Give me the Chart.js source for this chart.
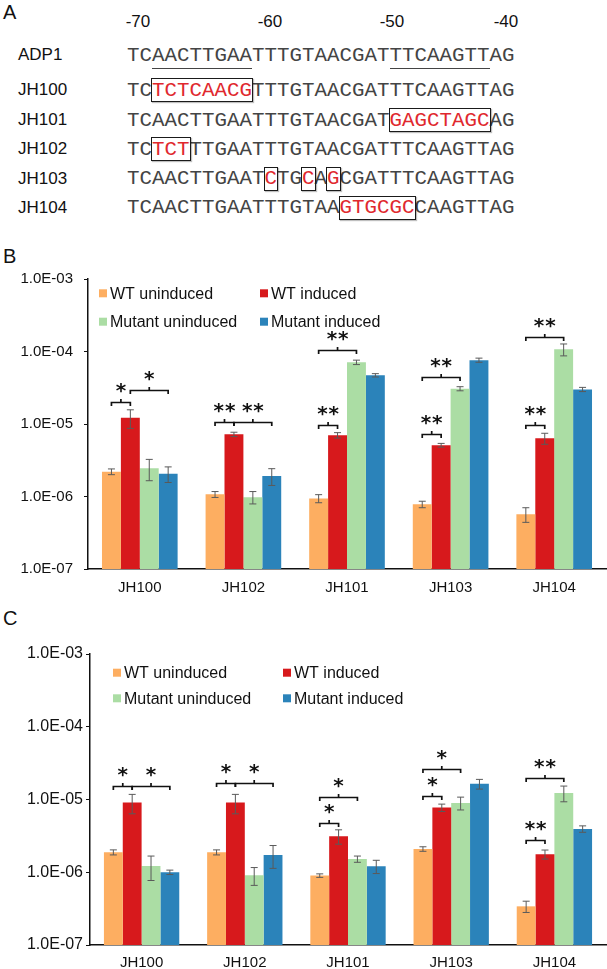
<!DOCTYPE html>
<html>
<head>
<meta charset="utf-8">
<script src="https://cdn.jsdelivr.net/npm/chart.js@4.4.0/dist/chart.umd.min.js"></script>
<style>
body { margin: 0; background: #fff; }
#page { position: relative; width: 607px; height: 969px; overflow: hidden; font-family: "Liberation Sans", Arial, sans-serif; color: #111; }
.letter { position: absolute; left: 3px; font-size: 20px; line-height: 24px; }
.rowname { position: absolute; left: 18px; font-size: 17px; line-height: 20px; }
.pos { position: absolute; font-size: 17px; line-height: 20px; transform: translateX(-50%); }
.seq { position: absolute; left: 127px; font-family: "Liberation Mono", monospace; font-size: 20.8px; line-height: 24px; color: #444; white-space: pre; }
.seq span { display: inline-block; width: 12.5px; text-align: center; }
.seq span.mut { color: #e0282e; }
.box { position: absolute; box-sizing: border-box; border: 1.5px solid #1a1a1a; box-shadow: 1px 1px 1px rgba(0,0,0,0.25); }
.uline { position: absolute; height: 1px; background: #444; }
canvas { position: absolute; left: 0; }
</style>
</head>
<body>
<div id="page">
  <div class="letter" style="top:0px">A</div>
  <div class="letter" style="top:244px">B</div>
  <div class="letter" style="top:606px">C</div>
  <div id="align"></div>
  <canvas id="chartB" width="607" height="360" style="top:250px"></canvas>
  <canvas id="chartC" width="607" height="359" style="top:610px"></canvas>
</div>
<script>
// Panel A: promoter sequences
const seqNames = ['ADP1', 'JH100', 'JH101', 'JH102', 'JH103', 'JH104'];
const seqs = [
    'TCAACTTGAATTTGTAACGATTTCAAGTTAG',
    'TCTCTCAACGTTTGTAACGATTTCAAGTTAG',
    'TCAACTTGAATTTGTAACGATGAGCTAGCAG',
    'TCTCTTTGAATTTGTAACGATTTCAAGTTAG',
    'TCAACTTGAATCTGCAGCGATTTCAAGTTAG',
    'TCAACTTGAATTTGTAAGTGCGCCAAGTTAG'
];
// [start, length] of mutated stretches
const seqBoxes = [[], [[2, 8]], [[21, 8]], [[2, 3]], [[11, 1], [14, 1], [16, 1]], [[17, 6]]];
const adp1Underlines = [[2, 8], [21, 8]];
const posLabels = ['-70', '-60', '-50', '-40'];

// Panels B and C
const categories = ['JH100', 'JH102', 'JH101', 'JH103', 'JH104'];
const seriesNames = ['WT uninduced', 'WT induced', 'Mutant uninduced', 'Mutant induced'];
const seriesColors = ['#fdae61', '#d7191c', '#abdda4', '#2b83ba'];
const yTicks = [1e-7, 1e-6, 1e-5, 1e-4, 1e-3];

const bWtUninduced = [2.2e-6, 1.07e-6, 0.94e-6, 0.78e-6, 0.57e-6];
const bWtInduced = [1.22e-5, 7.2e-6, 7.0e-6, 5.1e-6, 6.35e-6];
const bMutUninduced = [2.45e-6, 0.98e-6, 7.1e-5, 3.07e-5, 1.07e-4];
const bMutInduced = [2.06e-6, 1.92e-6, 4.7e-5, 7.6e-5, 3.0e-5];
const bWtUninducedErr = [0.2e-6, 0.1e-6, 0.12e-6, 0.08e-6, 0.13e-6];
const bWtInducedErr = [3.5e-6, 0.5e-6, 0.6e-6, 0.3e-6, 1.1e-6];
const bMutUninducedErr = [0.8e-6, 0.19e-6, 0.5e-5, 0.2e-5, 0.2e-4];
const bMutInducedErr = [0.5e-6, 0.5e-6, 0.25e-5, 0.5e-5, 0.2e-5];
// [category, from series, to series, level, label]
const bBrackets = [
    [0, 0, 1, 2.03e-5, '*'], [0, 1, 3, 2.94e-5, '*'],
    [1, 0, 1, 1.07e-5, '**'], [1, 1, 3, 1.07e-5, '**'],
    [2, 0, 1, 9.7e-6, '**'], [2, 0, 2, 1.05e-4, '**'],
    [3, 0, 1, 7.3e-6, '**'], [3, 0, 2, 4.4e-5, '**'],
    [4, 0, 1, 9.7e-6, '**'], [4, 0, 2, 1.57e-4, '**']
];

const cWtUninduced = [1.88e-6, 1.88e-6, 0.9e-6, 2.09e-6, 0.34e-6];
const cWtInduced = [9.06e-6, 9.06e-6, 3.13e-6, 7.74e-6, 1.77e-6];
const cMutUninduced = [1.22e-6, 0.91e-6, 1.52e-6, 8.98e-6, 1.23e-5];
const cMutInduced = [1.0e-6, 1.73e-6, 1.21e-6, 1.64e-5, 3.94e-6];
const cWtUninducedErr = [0.15e-6, 0.15e-6, 0.05e-6, 0.15e-6, 0.06e-6];
const cWtInducedErr = [2.7e-6, 2.7e-6, 0.7e-6, 0.9e-6, 0.25e-6];
const cMutUninducedErr = [0.45e-6, 0.25e-6, 0.15e-6, 1.8e-6, 3.0e-6];
const cMutInducedErr = [0.07e-6, 0.6e-6, 0.25e-6, 2.5e-6, 0.4e-6];
const cBrackets = [
    [0, 0, 1, 1.55e-5, '*'], [0, 1, 3, 1.55e-5, '*'],
    [1, 0, 1, 1.7e-5, '*'], [1, 1, 3, 1.7e-5, '*'],
    [2, 0, 1, 4.72e-6, '*'], [2, 0, 2, 1.08e-5, '*'],
    [3, 0, 1, 1.1e-5, '*'], [3, 0, 2, 2.61e-5, '*'],
    [4, 0, 1, 2.78e-6, '**'], [4, 0, 2, 1.96e-5, '**']
];

// ---- Panel A (html text) ----
const CW = 12.5, SEQ_X = 127;
const rowY = [55, 90, 120, 149, 178.5, 207.5];
const posX = [138, 270, 392, 506];
const align = document.getElementById('align');

posLabels.forEach((t, i) => {
    const d = document.createElement('div');
    d.className = 'pos';
    d.style.left = posX[i] + 'px';
    d.style.top = (22 - 9.8) + 'px';
    d.textContent = t;
    align.appendChild(d);
});

seqNames.forEach((name, r) => {
    const n = document.createElement('div');
    n.className = 'rowname';
    n.style.top = (rowY[r] - 9.8) + 'px';
    n.textContent = name;
    align.appendChild(n);

    const s = document.createElement('div');
    s.className = 'seq';
    s.style.top = (rowY[r] - 11.3) + 'px';
    const boxes = seqBoxes[r];
    s.innerHTML = seqs[r].split('').map((ch, i) => {
        const mut = boxes.some(b => i >= b[0] && i < b[0] + b[1]);
        return `<span class="${mut ? 'mut' : ''}">${ch}</span>`;
    }).join('');
    align.appendChild(s);

    boxes.forEach(b => {
        const el = document.createElement('div');
        el.className = 'box';
        el.style.left = (SEQ_X + b[0] * CW - 1) + 'px';
        el.style.width = (b[1] * CW + 2) + 'px';
        el.style.top = (rowY[r] - 12) + 'px';
        el.style.height = '24px';
        align.appendChild(el);
    });
});

adp1Underlines.forEach(u => {
    const el = document.createElement('div');
    el.className = 'uline';
    el.style.left = (SEQ_X + u[0] * CW) + 'px';
    el.style.width = (u[1] * CW) + 'px';
    el.style.top = '68px';
    align.appendChild(el);
});

// ---- Panels B, C (Chart.js) ----
Chart.defaults.font.family = '"Liberation Sans", Arial, sans-serif';
Chart.defaults.color = '#111';

const errorBars = {
    id: 'errorBars',
    afterDatasetsDraw(chart, args, opts) {
        const ctx = chart.ctx, y = chart.scales.y;
        ctx.save();
        ctx.strokeStyle = '#5a5a5a';
        ctx.lineWidth = 1;
        opts.errors.forEach((errs, i) => {
            const vals = chart.data.datasets[i].data;
            chart.getDatasetMeta(i).data.forEach((bar, j) => {
                const top = y.getPixelForValue(vals[j] + errs[j]);
                const bot = y.getPixelForValue(vals[j] - errs[j]);
                ctx.beginPath();
                ctx.moveTo(bar.x, top); ctx.lineTo(bar.x, bot);
                ctx.moveTo(bar.x - 3.5, top); ctx.lineTo(bar.x + 3.5, top);
                ctx.moveTo(bar.x - 3.5, bot); ctx.lineTo(bar.x + 3.5, bot);
                ctx.stroke();
            });
        });
        ctx.restore();
    }
};

const sigBrackets = {
    id: 'sigBrackets',
    afterDatasetsDraw(chart, args, opts) {
        const ctx = chart.ctx, y = chart.scales.y;
        const fs = 20;
        ctx.save();
        ctx.strokeStyle = '#111';
        ctx.fillStyle = '#111';
        ctx.lineWidth = 1.7;
        ctx.font = 'bold ' + fs + 'px "DejaVu Sans"';
        ctx.textAlign = 'center';
        ctx.textBaseline = 'alphabetic';
        opts.brackets.forEach(([g, a, b, level, label]) => {
            const x1 = chart.getDatasetMeta(a).data[g].x;
            const x2 = chart.getDatasetMeta(b).data[g].x;
            const yy = Math.round(y.getPixelForValue(level)) + 0.5;
            const xm = (x1 + x2) / 2;
            ctx.beginPath();
            ctx.moveTo(x1, yy + 3.5); ctx.lineTo(x1, yy); ctx.lineTo(x2, yy); ctx.lineTo(x2, yy + 3.5);
            ctx.moveTo(xm, yy); ctx.lineTo(xm, yy - 3.5);
            ctx.stroke();
            const n = label.length;
            for (let k = 0; k < n; k++) {
                ctx.fillText('*', xm + (k - (n - 1) / 2) * 11.3, yy - 17 + 0.575 * fs);
            }
        });
        ctx.restore();
    }
};

const boxLegend = {
    id: 'boxLegend',
    afterDraw(chart, args, opts) {
        const ctx = chart.ctx;
        ctx.save();
        ctx.font = '16px "Liberation Sans", Arial, sans-serif';
        ctx.textBaseline = 'middle';
        ctx.textAlign = 'left';
        chart.data.datasets.forEach((ds, i) => {
            const col = i % 2, row = Math.floor(i / 2);
            const bx = opts.cols[col], cy = opts.rows[row];
            ctx.fillStyle = ds.backgroundColor;
            ctx.fillRect(bx, cy - 4, 8, 8);
            ctx.fillStyle = '#111';
            ctx.fillText(ds.label, bx + 11, cy + 1);
        });
        ctx.restore();
    }
};

function makeChart(id, values, errors, brackets, lay) {
    return new Chart(document.getElementById(id), {
        type: 'bar',
        data: {
            labels: categories,
            datasets: values.map((v, i) => ({
                label: seriesNames[i],
                data: v,
                backgroundColor: seriesColors[i],
                borderWidth: 0,
                categoryPercentage: 0.73,
                barPercentage: 1.0
            }))
        },
        options: {
            responsive: false,
            animation: false,
            devicePixelRatio: 1,
            layout: { padding: { top: lay.top, left: 0, right: 1, bottom: 0 } },
            plugins: {
                legend: { display: false },
                tooltip: { enabled: false },
                errorBars: { errors: errors },
                sigBrackets: { brackets: brackets },
                boxLegend: { cols: lay.legendCols, rows: lay.legendRows }
            },
            scales: {
                x: {
                    grid: { display: false, drawTicks: false },
                    border: { display: true, color: '#111', width: 1.5 },
                    ticks: { font: { size: 15 }, color: '#111', padding: lay.xPad },
                    afterFit: s => { s.height = lay.xHeight; }
                },
                y: {
                    type: 'logarithmic',
                    min: yTicks[0],
                    max: yTicks[yTicks.length - 1],
                    grid: { display: true, drawOnChartArea: false, drawTicks: true, tickLength: 4, color: '#111', lineWidth: 1 },
                    border: { display: true, color: '#111', width: 1.5 },
                    ticks: {
                        font: { size: lay.yFont },
                        color: '#111',
                        padding: lay.yPad,
                        callback: v => '1.0E-0' + Math.round(-Math.log10(v))
                    },
                    afterBuildTicks: s => { s.ticks = yTicks.map(v => ({ value: v, major: true })); },
                    afterFit: s => { s.width = lay.left; }
                }
            }
        },
        plugins: [errorBars, sigBrackets, boxLegend]
    });
}

makeChart('chartB',
    [bWtUninduced, bWtInduced, bMutUninduced, bMutInduced],
    [bWtUninducedErr, bWtInducedErr, bMutUninducedErr, bMutInducedErr],
    bBrackets,
    { top: 29, left: 88, xHeight: 41, xPad: 10, yFont: 15, yPad: 11, legendCols: [99, 260], legendRows: [43.3, 71.7] });

makeChart('chartC',
    [cWtUninduced, cWtInduced, cMutUninduced, cMutInduced],
    [cWtUninducedErr, cWtInducedErr, cMutUninducedErr, cMutInducedErr],
    cBrackets,
    { top: 44, left: 90, xHeight: 24, xPad: 9, yFont: 16, yPad: 3, legendCols: [113, 283], legendRows: [62.7, 88.3] });
</script>
</body>
</html>
